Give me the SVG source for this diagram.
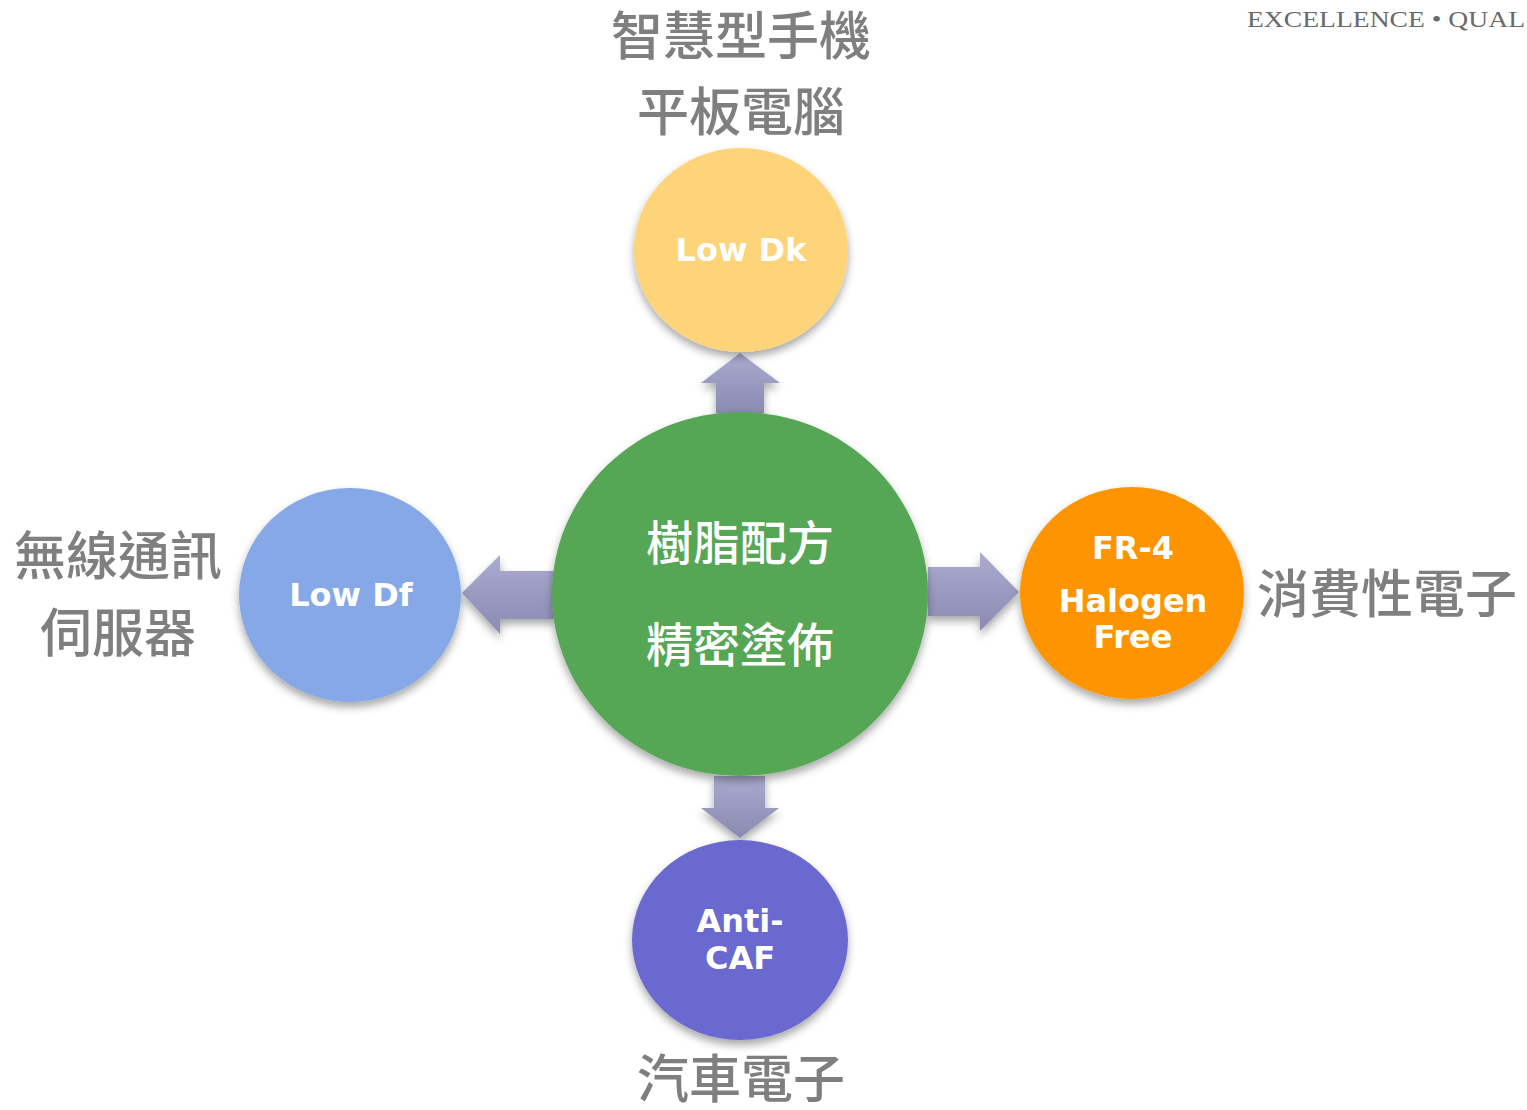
<svg xmlns="http://www.w3.org/2000/svg" width="1527" height="1110" viewBox="0 0 1527 1110">
<defs>
<filter id="sh" x="-20%" y="-20%" width="140%" height="150%">
<feDropShadow dx="0" dy="5" stdDeviation="4" flood-color="#000" flood-opacity="0.35"/>
</filter>
<linearGradient id="gv" x1="0" y1="0" x2="0" y2="1">
<stop offset="0" stop-color="#ababd0"/>
<stop offset="1" stop-color="#8a8ab2"/>
</linearGradient>
<style>
.lbl{font-family:"Noto Sans CJK TC","Noto Sans CJK SC",sans-serif;font-weight:500;font-size:52px;fill:#7f7f7f;text-anchor:middle}
.in{font-family:"DejaVu Sans",Verdana,sans-serif;font-weight:bold;font-size:32px;fill:#fff;text-anchor:middle}
.cn{font-family:"Noto Sans CJK TC","Noto Sans CJK SC",sans-serif;font-weight:500;font-size:47px;fill:#fff;text-anchor:middle}
.arr{fill:url(#gv);filter:url(#sh)}
</style>
</defs>
<text x="1247" y="27" font-family="Liberation Serif,serif" font-size="24" fill="#6a6a6a" textLength="278" lengthAdjust="spacingAndGlyphs">EXCELLENCE • QUAL</text>
<g id="connectors">
<path class="arr" d="M716,413 L716,383 L701,383 L740,353 L780,383 L764,383 L764,413 Z"/>
<path class="arr" d="M555,571 L500,571 L500,555 L462,593 L500,634 L500,619 L555,619 Z"/>
<path class="arr" d="M928,567 L980,567 L980,552 L1019,592 L980,631 L980,616 L928,616 Z"/>
<path class="arr" d="M714,776 L714,808 L701,808 L740,838 L779,808 L765,808 L765,776 Z"/>
</g>
<g id="center">
<ellipse cx="740" cy="594" rx="188" ry="182" fill="#55a655" filter="url(#sh)"/>
<text class="cn" x="740" y="560">樹脂配方</text>
<text class="cn" x="740" y="662">精密塗佈</text>
</g>
<g id="lowdk">
<ellipse cx="741" cy="250" rx="107" ry="102" fill="#fdd47a" filter="url(#sh)"/>
<text class="in" x="741" y="261">Low Dk</text>
<text class="lbl" x="741" y="55">智慧型手機</text>
<text class="lbl" x="741" y="131">平板電腦</text>
</g>
<g id="lowdf">
<ellipse cx="350" cy="595" rx="111" ry="107" fill="#86a8e7" filter="url(#sh)"/>
<text class="in" x="351" y="606">Low Df</text>
<text class="lbl" x="118" y="575">無線通訊</text>
<text class="lbl" x="118" y="652">伺服器</text>
</g>
<g id="fr4">
<ellipse cx="1132" cy="593" rx="112" ry="106" fill="#fe9500" filter="url(#sh)"/>
<text class="in" x="1133" y="559">FR-4</text>
<text class="in" x="1133" y="612">Halogen</text>
<text class="in" x="1133" y="648">Free</text>
<text class="lbl" x="1387" y="613">消費性電子</text>
</g>
<g id="anticaf">
<ellipse cx="740" cy="940" rx="108" ry="100" fill="#6b69cf" filter="url(#sh)"/>
<text class="in" x="740" y="932">Anti-</text>
<text class="in" x="740" y="969">CAF</text>
<text class="lbl" x="741" y="1098">汽車電子</text>
</g>
</svg>
